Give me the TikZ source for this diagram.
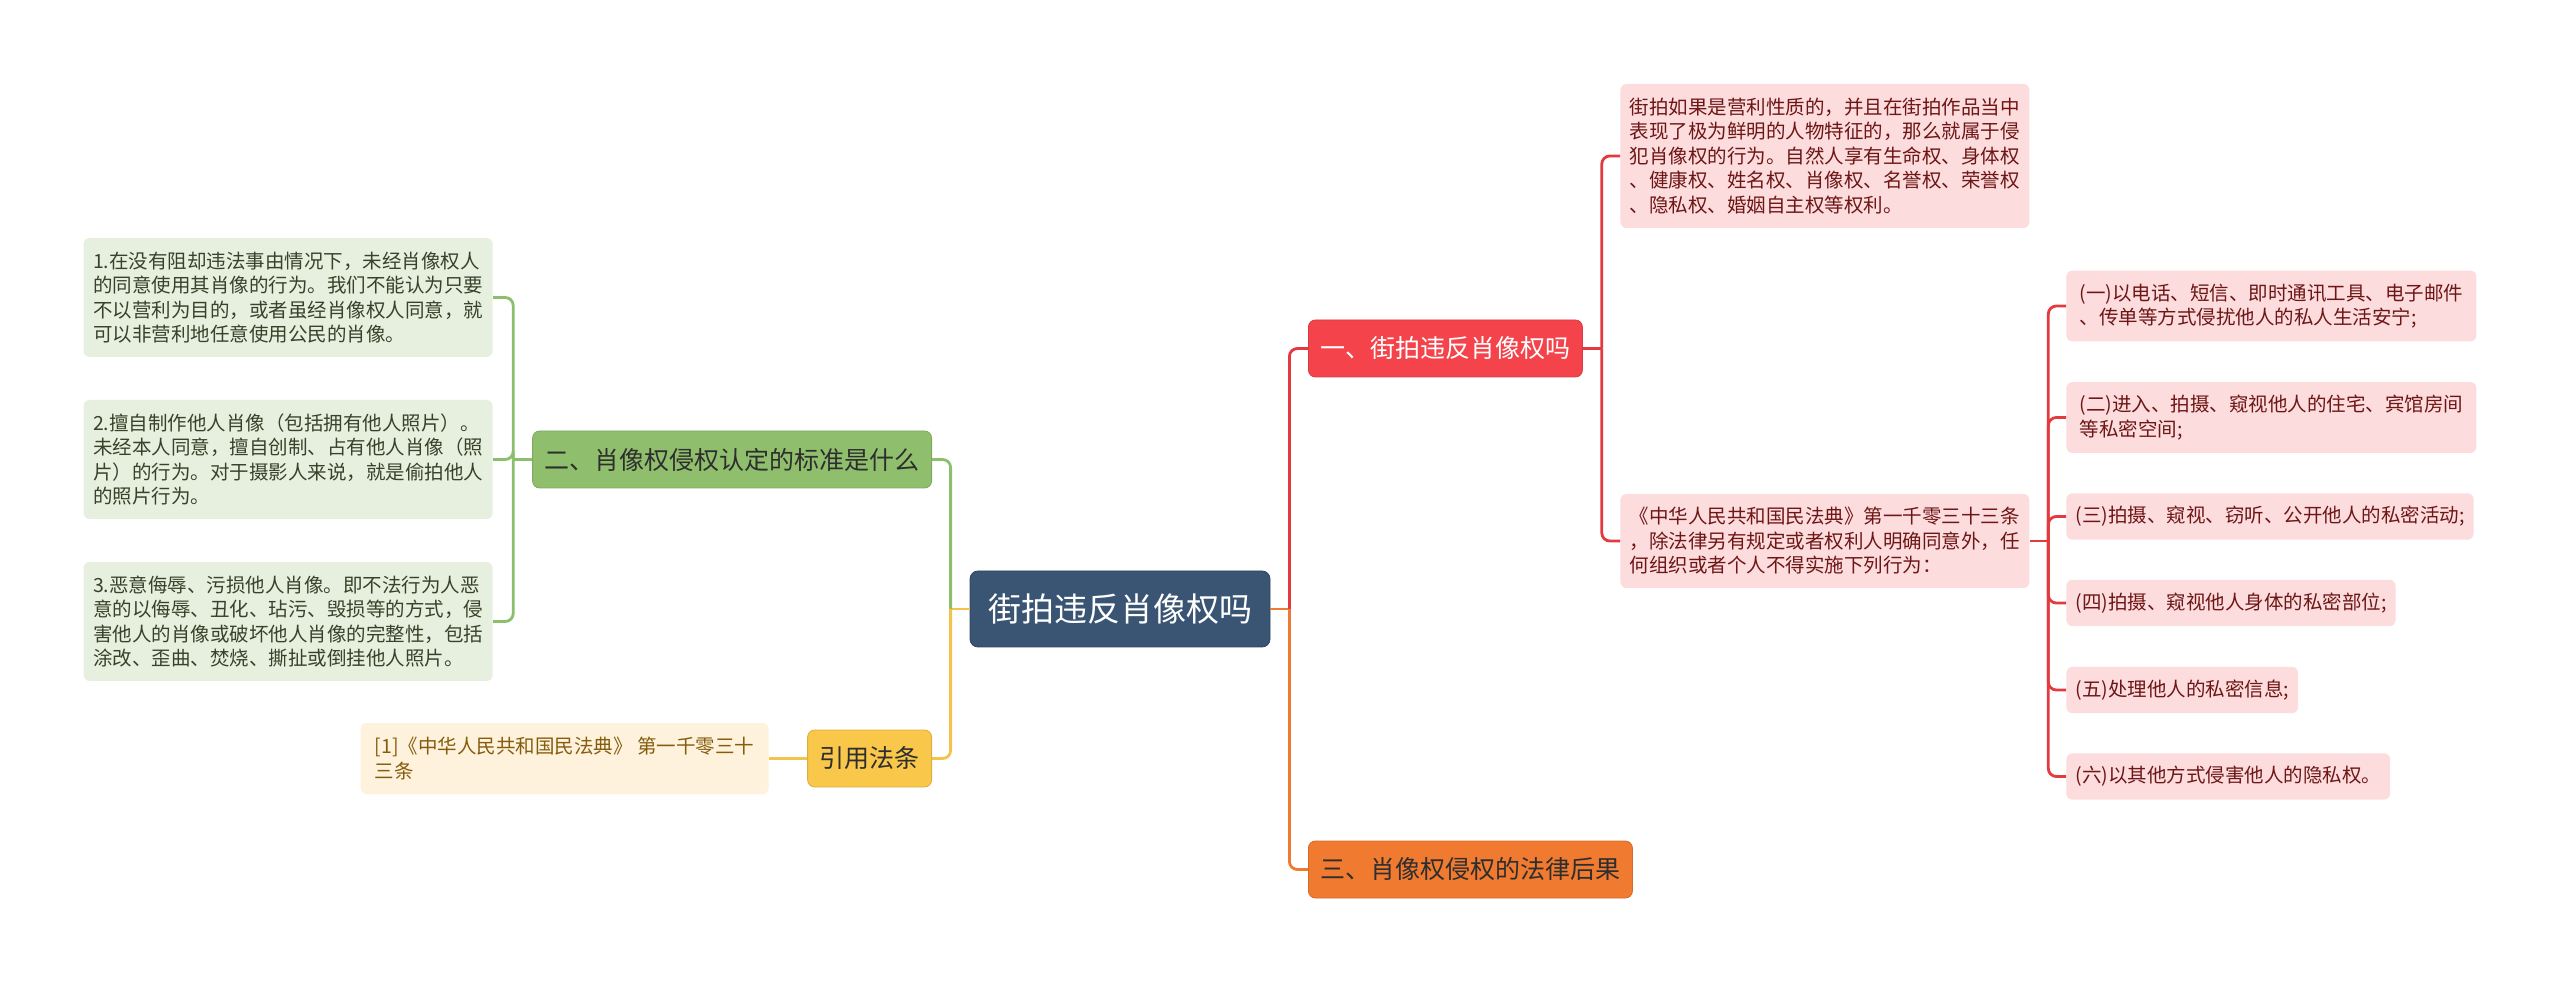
\documentclass[tikz,border=0pt]{standalone}
\usepackage{fontspec}
\usepackage{xcolor}
\usetikzlibrary{positioning}
\newfontfamily\cjk{Noto Sans CJK SC}
\definecolor{rootblue}{HTML}{3A5573}
\definecolor{topicred}{HTML}{F4434B}
\definecolor{topicorange}{HTML}{F07A30}
\definecolor{topicgreen}{HTML}{8FBF6C}
\definecolor{topicyellow}{HTML}{F9C74A}
\definecolor{leafred}{HTML}{FCDCDD}
\definecolor{leafgreen}{HTML}{E7F0DF}
\definecolor{leafyellow}{HTML}{FEF2DC}
\definecolor{inkred}{HTML}{6E1616}
\definecolor{inkgreen}{HTML}{36432A}
\definecolor{inkyellow}{HTML}{855C0E}
\definecolor{darkink}{HTML}{2E2E2E}
\definecolor{linered}{HTML}{E3393F}
\definecolor{lineorange}{HTML}{EE7A36}
\definecolor{linegreen}{HTML}{8CBF6C}
\definecolor{lineyellow}{HTML}{F4C34C}

\begin{document}
\begin{tikzpicture}[x=0.5pt,y=-0.5pt,font=\cjk,
  root/.style={rounded corners=4pt,draw=rootblue!80!black,fill=rootblue,text=white,minimum width=150pt,minimum height=38pt,font=\cjk\fontsize{16.5pt}{20pt}\selectfont},
  topic/.style={rounded corners=3.5pt,draw=#1!88!black,fill=#1,minimum height=28.5pt,inner xsep=6pt,font=\cjk\fontsize{12.5pt}{15pt}\selectfont},
  leaf/.style={rounded corners=3pt,align=left,inner xsep=4.5pt,inner ysep=6.5pt,font=\cjk\fontsize{9.75pt}{12.25pt}\selectfont},
  rednote/.style={leaf,fill=leafred,text=inkred},
  greennote/.style={leaf,fill=leafgreen,text=inkgreen,minimum width=204.5pt},
  yellownote/.style={leaf,fill=leafyellow,text=inkyellow,minimum width=204pt},
  link/.style={line width=1.4pt,draw=#1,rounded corners=4pt}]
  \useasboundingbox (0,0) rectangle (2560,983);

  % centre and main topics
  \node[root] (root) at (1120,609) {街拍违反肖像权吗};
  \node[topic=topicred,text=white,anchor=west] (violate) at (1308,348.5) {一、街拍违反肖像权吗};
  \node[topic=topicorange,text=darkink,anchor=west] (result) at (1308,869.5) {三、肖像权侵权的法律后果};
  \node[topic=topicgreen,text=darkink,anchor=east] (standard) at (932,459.5) {二、肖像权侵权认定的标准是什么};
  \node[topic=topicyellow,text=darkink,anchor=east] (cite) at (932,758.5) {引用法条};

  % right side notes
  \node[rednote,minimum width=204.5pt,minimum height=72pt,anchor=west] (street) at (1620,156) {街拍如果是营利性质的，并且在街拍作品当中\\表现了极为鲜明的人物特征的，那么就属于侵\\犯肖像权的行为。自然人享有生命权、身体权\\、健康权、姓名权、肖像权、名誉权、荣誉权\\、隐私权、婚姻自主权等权利。};
  \node[rednote,minimum width=204.5pt,minimum height=47pt,anchor=west] (code) at (1620,541) {《中华人民共和国民法典》第一千零三十三条\\，除法律另有规定或者权利人明确同意外，任\\何组织或者个人不得实施下列行为：};
  \node[rednote,minimum width=205pt,minimum height=34pt,anchor=west] (act1) at (2066,306) {(一)以电话、短信、即时通讯工具、电子邮件\\、传单等方式侵扰他人的私人生活安宁;};
  \node[rednote,minimum width=205pt,minimum height=34.5pt,anchor=west] (act2) at (2066,417.5) {(二)进入、拍摄、窥视他人的住宅、宾馆房间\\等私密空间;};
  \node[rednote,minimum height=21.5pt,anchor=west] (act3) at (2066,516.5) {(三)拍摄、窥视、窃听、公开他人的私密活动;};
  \node[rednote,minimum height=21pt,anchor=west] (act4) at (2066,603) {(四)拍摄、窥视他人身体的私密部位;};
  \node[rednote,minimum height=22pt,anchor=west] (act5) at (2066,690) {(五)处理他人的私密信息;};
  \node[rednote,minimum height=21.5pt,anchor=west] (act6) at (2066,776.5) {(六)以其他方式侵害他人的隐私权。};

  % left side notes
  \node[greennote,minimum height=59.5pt,anchor=east] (std1) at (493,297.5) {1.在没有阻却违法事由情况下，未经肖像权人\\的同意使用其肖像的行为。我们不能认为只要\\不以营利为目的，或者虽经肖像权人同意，就\\可以非营利地任意使用公民的肖像。};
  \node[greennote,minimum height=59.5pt,anchor=east] (std2) at (493,459.5) {2.擅自制作他人肖像（包括拥有他人照片）。\\未经本人同意，擅自创制、占有他人肖像（照\\片）的行为。对于摄影人来说，就是偷拍他人\\的照片行为。};
  \node[greennote,minimum height=59.5pt,anchor=east] (std3) at (493,621.5) {3.恶意侮辱、污损他人肖像。即不法行为人恶\\意的以侮辱、丑化、玷污、毁损等的方式，侵\\害他人的肖像或破坏他人肖像的完整性，包括\\涂改、歪曲、焚烧、撕扯或倒挂他人照片。};
  \node[yellownote,minimum height=35.5pt,anchor=east] (ref) at (769,758.5) {[1]《中华人民共和国民法典》 第一千零三十\\三条};

  % branch points
  \coordinate (rootR) at ([xshift=9.5pt]root.east);
  \coordinate (rootL) at ([xshift=-9.5pt]root.west);
  \coordinate (violateR) at ([xshift=9.5pt]violate.east);
  \coordinate (codeR) at ([xshift=9.25pt]code.east);
  \coordinate (standardL) at ([xshift=-9.5pt]standard.west);

  \draw[link=lineorange] (root.east) -- (rootR);
  \draw[link=linered] (rootR) |- (violate.west);
  \draw[link=lineorange] (rootR) |- (result.west);
  \draw[link=lineyellow] (root.west) -- (rootL);
  \draw[link=linegreen] (rootL) |- (standard.east);
  \draw[link=lineyellow] (rootL) |- (cite.east);

  \draw[link=linered] (violate.east) -- (violateR);
  \draw[link=linered] (violateR) |- (street.west);
  \draw[link=linered] (violateR) |- (code.west);
  \draw[link=linered] (code.east) -- (codeR);
  \draw[link=linered] (codeR) |- (act1.west);
  \draw[link=linered] (codeR) |- (act2.west);
  \draw[link=linered] (codeR) |- (act3.west);
  \draw[link=linered] (codeR) |- (act4.west);
  \draw[link=linered] (codeR) |- (act5.west);
  \draw[link=linered] (codeR) |- (act6.west);

  \draw[link=linegreen] (standard.west) -- (standardL);
  \draw[link=linegreen] (standardL) |- (std1.east);
  \draw[link=linegreen] (standardL) |- (std2.east);
  \draw[link=linegreen] (standardL) |- (std3.east);
  \draw[link=lineyellow] (cite.west) -- (ref.east);
\end{tikzpicture}
\end{document}
